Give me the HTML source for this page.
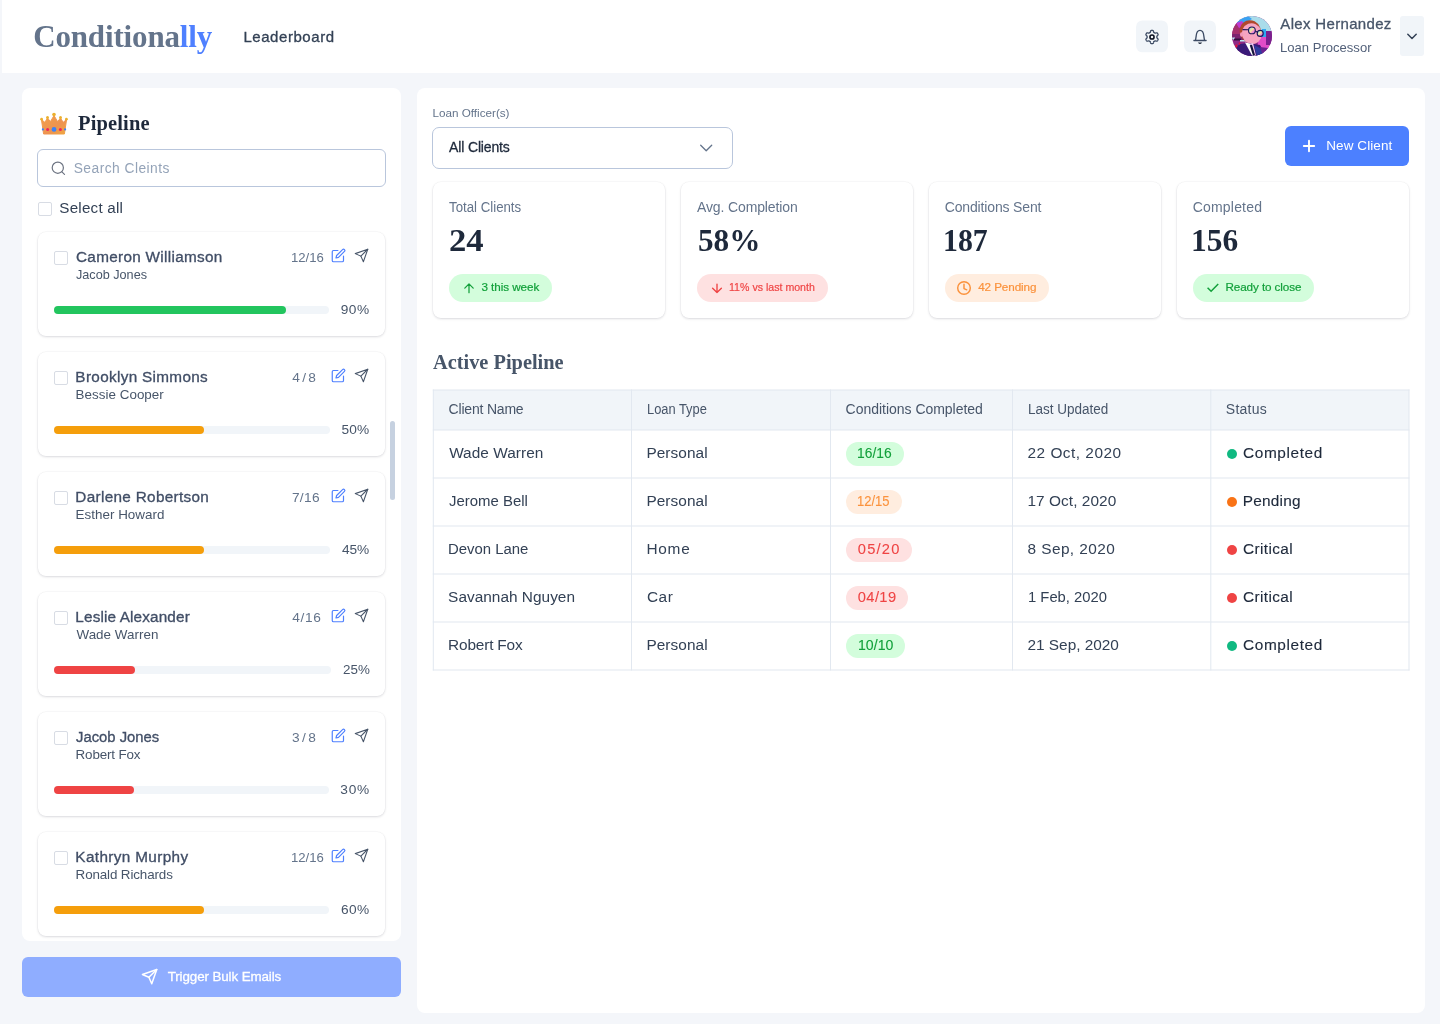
<!DOCTYPE html>
<html lang="en"><head><meta charset="utf-8"><title>Conditionally</title>
<style>
*{box-sizing:border-box;margin:0;padding:0}
html,body{width:1440px;height:1024px;overflow:hidden}
body{background:#F4F6FA;font-family:"Liberation Sans",sans-serif;position:relative}
.t{position:absolute;white-space:nowrap;line-height:20px;font-family:"Liberation Sans",sans-serif}
.sf{font-family:"Liberation Serif",serif;font-weight:bold}
.ic{position:absolute;overflow:visible}
i{position:absolute;display:block}
.hdr{position:absolute;left:2px;top:0;width:1438px;height:73px;background:#fff}
.ib{position:absolute;top:20.900px;width:32px;height:32px;border-radius:7px;background:#F1F5F9}
.cv{position:absolute;left:1400px;top:16.300px;width:24px;height:40px;border-radius:3px;background:#F1F5F9}
.lp{position:absolute;left:22px;top:88px;width:379px;height:853px;border-radius:8px;background:#fff}
.rp{position:absolute;left:417px;top:88px;width:1008px;height:925px;border-radius:8px;background:#fff}
.srch{position:absolute;left:37px;top:149px;width:349px;height:38px;border:1px solid #B9C6DC;border-radius:6px;background:#fff}
.cb{width:13.400px;height:13.400px;border:1px solid #D8DCE4;border-radius:2px;background:#fff}
.card{position:absolute;left:38px;width:347px;height:104px;border-radius:8px;background:#fff;box-shadow:0 0 0 .5px rgba(15,23,42,.04),0 1px 3px rgba(15,23,42,.10),0 1px 2px rgba(15,23,42,.04)}
.trk{left:54px;height:8px;border-radius:4px;background:#F1F5F9}
.fil{left:54px;height:8px;border-radius:4px}
.thumb{left:390px;top:421px;width:5px;height:79px;border-radius:3px;background:#C6D1E0}
.bulk{position:absolute;left:22px;top:957px;width:379px;height:40px;border-radius:6px;background:#8FADFF}
.sel{position:absolute;left:432px;top:127px;width:301px;height:42px;border:1px solid #B9C6DC;border-radius:7px;background:#fff}
.newc{position:absolute;left:1285px;top:126px;width:124px;height:40px;border-radius:6px;background:#4C80FF}
.scard{position:absolute;top:182px;width:232px;height:136px;border-radius:8px;background:#fff;box-shadow:0 0 0 .5px rgba(15,23,42,.04),0 1px 3px rgba(15,23,42,.10),0 1px 2px rgba(15,23,42,.04)}
.pill{border-radius:14px}
.tbl{position:absolute;left:432.500px;top:389.500px;width:977px;height:280.500px;border:1px solid #E2E8F0;background:#fff}
.thead{position:absolute;left:433.500px;top:390.500px;width:975px;height:39px;background:#F1F5F9}
.hl{left:433px;width:976px;height:1px;background:#E2E8F0}
.vl{top:390px;width:1px;height:279.500px;background:#E2E8F0}
.dot{left:1226.700px;width:10.300px;height:10.300px;border-radius:50%}
#pg{position:absolute;left:0;top:0;width:1440px;height:1024px;will-change:transform}
</style></head><body><div id="pg">
<header>
<div class="hdr"></div>
<span class="t sf" style="left:33.15px;top:26.75px;font-size:31px;color:#64748B;letter-spacing:-0.144px;"><span style="color:#64748B;-webkit-text-stroke-color:#64748B">Conditiona</span><span style="color:#4F80FF;-webkit-text-stroke-color:#4F80FF">lly</span></span>
<span class="t" style="left:243.39px;top:26.75px;font-size:15px;color:#334155;letter-spacing:0.558px;-webkit-text-stroke:0.3px #334155;">Leaderboard</span>
<span class="t" style="left:1280.30px;top:13.75px;font-size:15px;color:#475569;letter-spacing:0.330px;-webkit-text-stroke:0.3px #475569;">Alex Hernandez</span>
<span class="t" style="left:1279.66px;top:37.75px;font-size:13.6px;color:#526079;transform:scaleX(0.9612);transform-origin:0 0;">Loan Processor</span>
<svg class="ic" style="left:1136px;top:20px" width="82" height="34" viewBox="0 0 82 34"><rect x="0" y=".4" width="32" height="31.900" rx="6.500" fill="#F1F5F9"/><rect x="48" y=".4" width="32" height="31.900" rx="6.500" fill="#F1F5F9"/></svg>
<svg class="ic" style="left:1144px;top:28.800px" width="16" height="16" viewBox="0 0 16 16" fill="none" stroke-linejoin="round"><path d="M12.90 8.00 L12.90 7.79 L12.88 7.57 L12.86 7.36 L12.95 7.13 L13.25 6.84 L13.55 6.51 L13.84 6.16 L14.08 5.79 L14.10 5.47 L13.98 5.21 L13.85 4.95 L13.72 4.70 L13.57 4.45 L13.41 4.21 L13.24 3.98 L12.96 3.84 L12.52 3.86 L12.07 3.93 L11.63 4.04 L11.23 4.15 L10.98 4.11 L10.81 3.99 L10.63 3.87 L10.45 3.76 L10.26 3.65 L10.07 3.56 L9.88 3.47 L9.72 3.28 L9.62 2.87 L9.49 2.45 L9.33 2.02 L9.12 1.63 L8.86 1.46 L8.58 1.43 L8.29 1.41 L8.00 1.40 L7.71 1.41 L7.42 1.43 L7.14 1.46 L6.88 1.63 L6.67 2.02 L6.51 2.45 L6.38 2.87 L6.28 3.28 L6.12 3.47 L5.93 3.56 L5.74 3.65 L5.55 3.76 L5.37 3.87 L5.19 3.99 L5.02 4.11 L4.77 4.15 L4.37 4.04 L3.93 3.93 L3.48 3.86 L3.04 3.84 L2.76 3.98 L2.59 4.21 L2.43 4.45 L2.28 4.70 L2.15 4.95 L2.02 5.21 L1.90 5.47 L1.92 5.79 L2.16 6.16 L2.45 6.51 L2.75 6.84 L3.05 7.13 L3.14 7.36 L3.12 7.57 L3.10 7.79 L3.10 8.00 L3.10 8.21 L3.12 8.43 L3.14 8.64 L3.05 8.87 L2.75 9.16 L2.45 9.49 L2.16 9.84 L1.92 10.21 L1.90 10.53 L2.02 10.79 L2.15 11.05 L2.28 11.30 L2.43 11.55 L2.59 11.79 L2.76 12.02 L3.04 12.16 L3.48 12.14 L3.93 12.07 L4.37 11.96 L4.77 11.85 L5.02 11.89 L5.19 12.01 L5.37 12.13 L5.55 12.24 L5.74 12.35 L5.93 12.44 L6.12 12.53 L6.28 12.72 L6.38 13.13 L6.51 13.55 L6.67 13.98 L6.88 14.37 L7.14 14.54 L7.42 14.57 L7.71 14.59 L8.00 14.60 L8.29 14.59 L8.58 14.57 L8.86 14.54 L9.12 14.37 L9.33 13.98 L9.49 13.55 L9.62 13.13 L9.72 12.72 L9.88 12.53 L10.07 12.44 L10.26 12.35 L10.45 12.24 L10.63 12.13 L10.81 12.01 L10.98 11.89 L11.23 11.85 L11.63 11.96 L12.07 12.07 L12.52 12.14 L12.96 12.16 L13.24 12.02 L13.41 11.79 L13.57 11.55 L13.72 11.30 L13.85 11.05 L13.98 10.79 L14.10 10.53 L14.08 10.21 L13.84 9.84 L13.55 9.49 L13.25 9.16 L12.95 8.87 L12.86 8.64 L12.88 8.43 L12.90 8.21Z" stroke="#3B4A63" stroke-width="1.300"/><circle cx="8" cy="8" r="2.050" stroke="#0B1120" stroke-width="1.600"/></svg>
<svg class="ic" style="left:1192px;top:29px" width="16" height="16" viewBox="0 0 16 16" fill="none" stroke="#3B4A63" stroke-width="1.300" stroke-linecap="round" stroke-linejoin="round"><path d="M3.500 11.400L4.200 6.800C4.500 3.200 5.800 1.300 8 1.300s3.500 1.900 3.800 5.500l.7 4.600"/><path d="M1.900 11.500h12.200"/><path d="M5.900 13.500h4.200Q8 16.600 5.900 13.500z" fill="#1E293B" stroke="none"/></svg>
<svg class="ic" style="left:1232px;top:16.3px" width="40" height="40" viewBox="0 0 40 40">
<defs><clipPath id="av"><circle cx="20" cy="20" r="20"/></clipPath>
<linearGradient id="lens" x1="0" y1="0" x2="1" y2="1"><stop offset="0" stop-color="#5BC8F5"/><stop offset=".45" stop-color="#F6E7A0"/><stop offset=".7" stop-color="#F08AD0"/><stop offset="1" stop-color="#8A5BF0"/></linearGradient></defs>
<g clip-path="url(#av)">
<rect width="40" height="40" fill="#8E2A86"/>
<path d="M0 6h14v18H0z" fill="#A5306C"/>
<path d="M0 18h12v6H0z" fill="#7C2470"/>
<path d="M6 0h34v15H22L10 8z" fill="#A9DCEA"/>
<path d="M6 2l10-2 4 3-8 5-7-1z" fill="#3AA2F2"/>
<path d="M4 7l6-2 3 4-6 3z" fill="#C23AD0"/>
<path d="M30 13h4v11h-4z" fill="#2FA8F0"/>
<path d="M27 21h10v12H25z" fill="#E24CC8"/>
<path d="M34 15h6v14h-6z" fill="#7B1F8E"/>
<path d="M0 21.5h3v2H0z" fill="#BFE3F5"/><path d="M2 22.6h7v1.8H2z" fill="#33103F"/><path d="M8 24h6v1.4H8z" fill="#BDE6EF"/>
<ellipse cx="18.300" cy="15.400" rx="10.600" ry="11.300" transform="rotate(-20 18.300 15.400)" fill="#B0482C"/>
<ellipse cx="19.800" cy="17.600" rx="9.800" ry="10.500" transform="rotate(-20 19.800 17.600)" fill="#F6A4C0"/>
<ellipse cx="9.600" cy="18.500" rx="1.600" ry="2.300" fill="#F29BBB"/>
<path d="M0 40V34l8-6 8-1 12 2 6 11z" fill="#3A1A78"/>
<path d="M22 29l8 4 2 7H25z" fill="#2F3C9E"/><path d="M28 31l8 1 2 8H31z" fill="#6B2290"/>
<path d="M13 26.500l5 1 5.500 12h-3.500z" fill="#fff"/><path d="M18 27.500l3-.5 3 12.500h-2z" fill="#F0C8F0"/>
<path d="M17.800 29.300l2.200-.5 3 10.200-2 .5z" fill="#14143A"/>
<path d="M3 30l1.500-2 1.200 2-1.200 2z" fill="#E0143C"/><path d="M6.500 27.500l1-1.500 1 1.500-1 1.500z" fill="#E0143C"/>
<circle cx="19.900" cy="14.400" r="3.400" fill="url(#lens)" stroke="#1B1658" stroke-width="1.100"/>
<circle cx="28.200" cy="17.400" r="3" fill="url(#lens)" stroke="#1B1658" stroke-width="1.100"/>
<path d="M10.500 13.600l6 .2M23.300 15.300l2 .8" stroke="#1B1658" stroke-width="1.100" fill="none"/>
</g></svg>
<div class="cv"></div>
<svg class="ic" style="left:1406px;top:32px" width="12" height="9" viewBox="0 0 12 9" fill="none" stroke="#334155" stroke-width="1.500" stroke-linecap="round" stroke-linejoin="round"><path d="M1.800 2.300L6 6.500l4.200-4.200"/></svg>
</header>
<aside>
<div class="lp"></div>
<svg class="ic" style="left:38px;top:110px" width="32" height="26" viewBox="0 0 32 26">
<defs><linearGradient id="cg" x1="0" y1="0" x2="1" y2="1"><stop offset="0" stop-color="#F2A04A"/><stop offset=".6" stop-color="#EE9350"/><stop offset="1" stop-color="#F0A640"/></linearGradient></defs>
<path d="M3.400 9.500L6.800 12.300 9.500 8.200 12.500 11.500 16 5.500 19.500 11.500 22.500 8.200 25.200 12.300 28.600 9.500 26.400 24H5.600z" fill="url(#cg)" stroke="url(#cg)" stroke-width="1" stroke-linejoin="round"/>
<circle cx="16" cy="4.500" r="1.800" fill="#EBB02E"/><circle cx="9.500" cy="7.600" r="1.500" fill="#EBB02E"/><circle cx="22.500" cy="7.600" r="1.500" fill="#EBB02E"/><circle cx="3.600" cy="9.200" r="1.400" fill="#EBB02E"/><circle cx="28.400" cy="9.200" r="1.400" fill="#EBB02E"/>
<circle cx="16" cy="19.400" r="2.400" fill="#3B82F6"/><circle cx="9.600" cy="19.400" r="1.500" fill="#F0245C"/><circle cx="22.400" cy="19.400" r="1.500" fill="#F0245C"/><circle cx="4.900" cy="19.400" r="1.100" fill="#3B82F6"/><circle cx="27.100" cy="19.400" r="1.100" fill="#3B82F6"/>
</svg>
<div class="srch"></div>
<svg class="ic" style="left:50.500px;top:160.800px" width="15" height="15" viewBox="0 0 15 15" fill="none" stroke="#6B7280" stroke-width="1.200" stroke-linecap="round"><circle cx="6.800" cy="6.700" r="5.600"/><path d="M10.900 10.900l2.600 2.500"/></svg>
<i class="cb" style="left:38.400px;top:202.200px"></i>
<div class="bulk"></div>
<span class="t sf" style="left:77.98px;top:113.25px;font-size:20.5px;color:#1E293B;letter-spacing:0.139px;">Pipeline</span>
<span class="t" style="left:73.71px;top:158.75px;font-size:13.8px;color:#94A3B8;letter-spacing:0.464px;">Search Cleints</span>
<span class="t" style="left:59.33px;top:197.75px;font-size:15.2px;color:#334155;letter-spacing:0.216px;">Select all</span>
<span class="t" style="left:167.71px;top:966.75px;font-size:13.4px;color:#FFFFFF;letter-spacing:-0.113px;-webkit-text-stroke:0.3px #FFFFFF;">Trigger Bulk Emails</span>
<div class="card" style="top:232px">
</div>
<i class="cb" style="left:54.4px;top:251.4px"></i>
<svg class="ic" style="left:330.85px;top:247.95px" width="15" height="15" viewBox="0 0 24 24" fill="none" stroke="#4F80FF" stroke-width="1.9" stroke-linecap="round" stroke-linejoin="round"><path d="M11 4H4a2 2 0 0 0-2 2v14a2 2 0 0 0 2 2h14a2 2 0 0 0 2-2v-7"/><path d="M18.5 2.5a2.121 2.121 0 0 1 3 3L12 15l-4 1 1-4 9.5-9.5z"/></svg>
<svg class="ic" style="left:354.0px;top:247.95px" width="15" height="15" viewBox="0 0 24 24" fill="none" stroke="#475569" stroke-width="1.7" stroke-linecap="round" stroke-linejoin="round"><path d="M22 2L11 13"/><path d="M22 2l-7 20-4-9-9-4 20-7z"/></svg>
<i class="trk" style="top:306px;width:274.8px"></i><i class="fil" style="top:306px;width:231.8px;background:#22C55E"></i>
<span class="t" style="left:75.97px;top:246.75px;font-size:15.3px;color:#414E66;letter-spacing:0.311px;-webkit-text-stroke:0.32px #414E66;">Cameron Williamson</span>
<span class="t" style="left:76.31px;top:264.75px;font-size:13.4px;color:#475569;transform:scaleX(0.9444);transform-origin:0 0;">Jacob Jones</span>
<span class="t" style="left:291.09px;top:247.75px;font-size:13.7px;color:#64748B;transform:scaleX(0.9593);transform-origin:0 0;">12/16</span>
<span class="t" style="left:340.72px;top:299.75px;font-size:13.7px;color:#475569;letter-spacing:0.507px;">90%</span>
<div class="card" style="top:352px">
</div>
<i class="cb" style="left:54.4px;top:371.4px"></i>
<svg class="ic" style="left:330.85px;top:367.95px" width="15" height="15" viewBox="0 0 24 24" fill="none" stroke="#4F80FF" stroke-width="1.9" stroke-linecap="round" stroke-linejoin="round"><path d="M11 4H4a2 2 0 0 0-2 2v14a2 2 0 0 0 2 2h14a2 2 0 0 0 2-2v-7"/><path d="M18.5 2.5a2.121 2.121 0 0 1 3 3L12 15l-4 1 1-4 9.5-9.5z"/></svg>
<svg class="ic" style="left:354.0px;top:367.95px" width="15" height="15" viewBox="0 0 24 24" fill="none" stroke="#475569" stroke-width="1.7" stroke-linecap="round" stroke-linejoin="round"><path d="M22 2L11 13"/><path d="M22 2l-7 20-4-9-9-4 20-7z"/></svg>
<i class="trk" style="top:426px;width:275.7px"></i><i class="fil" style="top:426px;width:150.0px;background:#F59E0B"></i>
<span class="t" style="left:75.36px;top:366.75px;font-size:15.3px;color:#414E66;letter-spacing:0.323px;-webkit-text-stroke:0.32px #414E66;">Brooklyn Simmons</span>
<span class="t" style="left:75.60px;top:384.75px;font-size:13.4px;color:#475569;letter-spacing:0.028px;">Bessie Cooper</span>
<span class="t" style="left:292.32px;top:367.75px;font-size:13.7px;color:#64748B;letter-spacing:2.223px;">4/8</span>
<span class="t" style="left:341.52px;top:419.75px;font-size:13.7px;color:#475569;letter-spacing:0.108px;">50%</span>
<div class="card" style="top:472px">
</div>
<i class="cb" style="left:54.4px;top:491.4px"></i>
<svg class="ic" style="left:330.85px;top:487.95px" width="15" height="15" viewBox="0 0 24 24" fill="none" stroke="#4F80FF" stroke-width="1.9" stroke-linecap="round" stroke-linejoin="round"><path d="M11 4H4a2 2 0 0 0-2 2v14a2 2 0 0 0 2 2h14a2 2 0 0 0 2-2v-7"/><path d="M18.5 2.5a2.121 2.121 0 0 1 3 3L12 15l-4 1 1-4 9.5-9.5z"/></svg>
<svg class="ic" style="left:354.0px;top:487.95px" width="15" height="15" viewBox="0 0 24 24" fill="none" stroke="#475569" stroke-width="1.7" stroke-linecap="round" stroke-linejoin="round"><path d="M22 2L11 13"/><path d="M22 2l-7 20-4-9-9-4 20-7z"/></svg>
<i class="trk" style="top:546px;width:275.7px"></i><i class="fil" style="top:546px;width:150.0px;background:#F59E0B"></i>
<span class="t" style="left:75.36px;top:486.75px;font-size:15.3px;color:#414E66;letter-spacing:0.316px;-webkit-text-stroke:0.32px #414E66;">Darlene Robertson</span>
<span class="t" style="left:75.60px;top:504.75px;font-size:13.4px;color:#475569;letter-spacing:0.022px;">Esther Howard</span>
<span class="t" style="left:291.90px;top:487.75px;font-size:13.7px;color:#64748B;letter-spacing:0.365px;">7/16</span>
<span class="t" style="left:341.98px;top:539.75px;font-size:13.7px;color:#475569;letter-spacing:-0.123px;">45%</span>
<div class="card" style="top:592px">
</div>
<i class="cb" style="left:54.4px;top:611.4px"></i>
<svg class="ic" style="left:330.85px;top:607.95px" width="15" height="15" viewBox="0 0 24 24" fill="none" stroke="#4F80FF" stroke-width="1.9" stroke-linecap="round" stroke-linejoin="round"><path d="M11 4H4a2 2 0 0 0-2 2v14a2 2 0 0 0 2 2h14a2 2 0 0 0 2-2v-7"/><path d="M18.5 2.5a2.121 2.121 0 0 1 3 3L12 15l-4 1 1-4 9.5-9.5z"/></svg>
<svg class="ic" style="left:354.0px;top:607.95px" width="15" height="15" viewBox="0 0 24 24" fill="none" stroke="#475569" stroke-width="1.7" stroke-linecap="round" stroke-linejoin="round"><path d="M22 2L11 13"/><path d="M22 2l-7 20-4-9-9-4 20-7z"/></svg>
<i class="trk" style="top:666px;width:277.0px"></i><i class="fil" style="top:666px;width:81.0px;background:#EF4444"></i>
<span class="t" style="left:75.36px;top:606.75px;font-size:15.3px;color:#414E66;letter-spacing:0.141px;-webkit-text-stroke:0.32px #414E66;">Leslie Alexander</span>
<span class="t" style="left:76.48px;top:624.75px;font-size:13.4px;color:#475569;letter-spacing:0.026px;">Wade Warren</span>
<span class="t" style="left:292.32px;top:607.75px;font-size:13.7px;color:#64748B;letter-spacing:0.611px;">4/16</span>
<span class="t" style="left:342.52px;top:659.75px;font-size:13.7px;color:#475569;transform:scaleX(0.9785);transform-origin:0 0;">25%</span>
<div class="card" style="top:712px">
</div>
<i class="cb" style="left:54.4px;top:731.4px"></i>
<svg class="ic" style="left:330.85px;top:727.95px" width="15" height="15" viewBox="0 0 24 24" fill="none" stroke="#4F80FF" stroke-width="1.9" stroke-linecap="round" stroke-linejoin="round"><path d="M11 4H4a2 2 0 0 0-2 2v14a2 2 0 0 0 2 2h14a2 2 0 0 0 2-2v-7"/><path d="M18.5 2.5a2.121 2.121 0 0 1 3 3L12 15l-4 1 1-4 9.5-9.5z"/></svg>
<svg class="ic" style="left:354.0px;top:727.95px" width="15" height="15" viewBox="0 0 24 24" fill="none" stroke="#475569" stroke-width="1.7" stroke-linecap="round" stroke-linejoin="round"><path d="M22 2L11 13"/><path d="M22 2l-7 20-4-9-9-4 20-7z"/></svg>
<i class="trk" style="top:786px;width:275.0px"></i><i class="fil" style="top:786px;width:80.2px;background:#EF4444"></i>
<span class="t" style="left:76.26px;top:726.75px;font-size:15.3px;color:#414E66;transform:scaleX(0.9688);transform-origin:0 0;-webkit-text-stroke:0.32px #414E66;">Jacob Jones</span>
<span class="t" style="left:75.60px;top:744.75px;font-size:13.4px;color:#475569;letter-spacing:-0.158px;">Robert Fox</span>
<span class="t" style="left:291.88px;top:727.75px;font-size:13.7px;color:#64748B;letter-spacing:2.443px;">3/8</span>
<span class="t" style="left:340.35px;top:779.75px;font-size:13.7px;color:#475569;letter-spacing:0.692px;">30%</span>
<div class="card" style="top:832px">
</div>
<i class="cb" style="left:54.4px;top:851.4px"></i>
<svg class="ic" style="left:330.85px;top:847.95px" width="15" height="15" viewBox="0 0 24 24" fill="none" stroke="#4F80FF" stroke-width="1.9" stroke-linecap="round" stroke-linejoin="round"><path d="M11 4H4a2 2 0 0 0-2 2v14a2 2 0 0 0 2 2h14a2 2 0 0 0 2-2v-7"/><path d="M18.5 2.5a2.121 2.121 0 0 1 3 3L12 15l-4 1 1-4 9.5-9.5z"/></svg>
<svg class="ic" style="left:354.0px;top:847.95px" width="15" height="15" viewBox="0 0 24 24" fill="none" stroke="#475569" stroke-width="1.7" stroke-linecap="round" stroke-linejoin="round"><path d="M22 2L11 13"/><path d="M22 2l-7 20-4-9-9-4 20-7z"/></svg>
<i class="trk" style="top:906px;width:275.0px"></i><i class="fil" style="top:906px;width:149.5px;background:#F59E0B"></i>
<span class="t" style="left:75.36px;top:846.75px;font-size:15.3px;color:#414E66;letter-spacing:0.366px;-webkit-text-stroke:0.32px #414E66;">Kathryn Murphy</span>
<span class="t" style="left:75.60px;top:864.75px;font-size:13.4px;color:#475569;letter-spacing:-0.126px;">Ronald Richards</span>
<span class="t" style="left:291.09px;top:847.75px;font-size:13.7px;color:#64748B;transform:scaleX(0.9593);transform-origin:0 0;">12/16</span>
<span class="t" style="left:340.94px;top:899.75px;font-size:13.7px;color:#475569;letter-spacing:0.399px;">60%</span>

<i class="thumb"></i>
<svg class="ic" style="left:141.100px;top:968.400px" width="17.200" height="17.200" viewBox="0 0 24 24" fill="none" stroke="#fff" stroke-width="2.100" stroke-linecap="round" stroke-linejoin="round"><path d="M22 2L11 13"/><path d="M22 2l-7 20-4-9-9-4 20-7z"/></svg>
</aside>
<main>
<div class="rp"></div>
<div class="sel"></div>
<svg class="ic" style="left:699px;top:143px" width="14" height="10" viewBox="0 0 14 10" fill="none" stroke="#64748B" stroke-width="1.300" stroke-linecap="round" stroke-linejoin="round"><path d="M1.700 2.300L7.200 7.800l5.500-5.500"/></svg>
<div class="newc"></div>
<svg class="ic" style="left:1302px;top:139.200px" width="14" height="14" viewBox="0 0 14 14" fill="none" stroke="#fff" stroke-width="1.900" stroke-linecap="round"><path d="M7 1.800v10.400M1.800 7h10.400"/></svg>
<span class="t" style="left:432.43px;top:102.75px;font-size:11.7px;color:#64748B;">Loan Officer(s)</span>
<span class="t" style="left:449.08px;top:137.25px;font-size:14px;color:#1E293B;letter-spacing:-0.148px;-webkit-text-stroke:0.3px #1E293B;">All Clients</span>
<span class="t" style="left:1326.31px;top:135.75px;font-size:13.5px;color:#FFFFFF;letter-spacing:0.075px;">New Client</span>
<span class="t sf" style="left:433.18px;top:352.25px;font-size:21.2px;color:#475569;transform:scaleX(0.9608);transform-origin:0 0;">Active Pipeline</span>
<div class="scard" style="left:433px"></div>
<i class="pill" style="left:449px;top:274px;width:103px;height:28px;background:#D3FDDC"></i>
<svg class="ic" style="left:462.5px;top:281.6px" width="12" height="12" viewBox="0 0 12 12" fill="none" stroke="#12A03A" stroke-width="1.25" stroke-linecap="round" stroke-linejoin="round"><path d="M6 10.700V2.100M1.800 6.100l4.200-4.200 4.200 4.200"/></svg>
<span class="t" style="left:449.28px;top:197.25px;font-size:14px;color:#64748B;transform:scaleX(0.9465);transform-origin:0 0;">Total Clients</span>
<span class="t sf" style="left:448.62px;top:230.75px;font-size:31.2px;color:#1E293B;transform:scaleX(1.1119);transform-origin:0 0;">24</span>
<span class="t" style="left:481.50px;top:276.75px;font-size:11.7px;color:#12A03A;letter-spacing:-0.068px;-webkit-text-stroke:0.2px #12A03A;">3 this week</span>
<div class="scard" style="left:681px"></div>
<i class="pill" style="left:697px;top:274px;width:131px;height:28px;background:#FEE1E1"></i>
<svg class="ic" style="left:710.5px;top:281.6px" width="12" height="12" viewBox="0 0 12 12" fill="none" stroke="#EF4444" stroke-width="1.35" stroke-linecap="round" stroke-linejoin="round"><path d="M6 2.100v8.400M1.600 6.200l4.400 4.400 4.400-4.400"/></svg>
<span class="t" style="left:696.98px;top:197.25px;font-size:14px;color:#64748B;letter-spacing:-0.125px;">Avg. Completion</span>
<span class="t sf" style="left:697.52px;top:230.75px;font-size:31.2px;color:#1E293B;transform:scaleX(1.0010);transform-origin:0 0;">58%</span>
<span class="t" style="left:729.21px;top:276.75px;font-size:11.7px;color:#EF4444;transform:scaleX(0.9073);transform-origin:0 0;-webkit-text-stroke:0.2px #EF4444;">11% vs last month</span>
<div class="scard" style="left:929px"></div>
<i class="pill" style="left:945px;top:274px;width:104px;height:28px;background:#FFEDDF"></i>
<svg class="ic" style="left:956.45px;top:279.95px" width="16" height="16" viewBox="0 0 16 16" fill="none" stroke="#FB923C" stroke-width="1.45" stroke-linecap="round" stroke-linejoin="round"><circle cx="8" cy="8" r="6.3"/><path d="M8 4.300V8.600l2.800 1.200"/></svg>
<span class="t" style="left:944.76px;top:197.25px;font-size:14px;color:#64748B;letter-spacing:-0.153px;">Conditions Sent</span>
<span class="t sf" style="left:943.44px;top:230.75px;font-size:31.2px;color:#1E293B;transform:scaleX(0.9564);transform-origin:0 0;">187</span>
<span class="t" style="left:978.23px;top:276.75px;font-size:11.7px;color:#FB923C;letter-spacing:-0.102px;-webkit-text-stroke:0.2px #FB923C;">42 Pending</span>
<div class="scard" style="left:1177px"></div>
<i class="pill" style="left:1193px;top:274px;width:121px;height:28px;background:#D3FDDC"></i>
<svg class="ic" style="left:1205.6px;top:281.6px" width="14" height="12" viewBox="0 0 14 12" fill="none" stroke="#12A03A" stroke-width="1.5" stroke-linecap="square" stroke-linejoin="miter"><path d="M2.100 6.300l3 3 6.600-6.700"/></svg>
<span class="t" style="left:1192.76px;top:197.25px;font-size:14px;color:#64748B;letter-spacing:0.186px;">Completed</span>
<span class="t sf" style="left:1191.11px;top:230.75px;font-size:31.2px;color:#1E293B;transform:scaleX(1.0069);transform-origin:0 0;">156</span>
<span class="t" style="left:1225.52px;top:276.75px;font-size:11.7px;color:#12A03A;letter-spacing:-0.111px;-webkit-text-stroke:0.2px #12A03A;">Ready to close</span>

<svg class="ic" style="left:430px;top:387px" width="982" height="286" viewBox="430 387 982 286" shape-rendering="geometricPrecision"><rect x="433.3" y="390" width="975.700" height="40" fill="#F1F5F9"/><rect x="432.800" y="389.5" width="976.700" height="1" fill="#E2E8F0"/><rect x="432.800" y="429.5" width="976.700" height="1" fill="#E2E8F0"/><rect x="432.800" y="477.5" width="976.700" height="1" fill="#E2E8F0"/><rect x="432.800" y="525.5" width="976.700" height="1" fill="#E2E8F0"/><rect x="432.800" y="573.5" width="976.700" height="1" fill="#E2E8F0"/><rect x="432.800" y="621.5" width="976.700" height="1" fill="#E2E8F0"/><rect x="432.800" y="669.5" width="976.700" height="1" fill="#E2E8F0"/><rect x="432.8" y="389.500" width="1" height="281" fill="#E2E8F0"/><rect x="631.0" y="389.500" width="1" height="281" fill="#E2E8F0"/><rect x="830.0" y="389.500" width="1" height="281" fill="#E2E8F0"/><rect x="1012.0" y="389.500" width="1" height="281" fill="#E2E8F0"/><rect x="1210.3" y="389.500" width="1" height="281" fill="#E2E8F0"/><rect x="1408.5" y="389.500" width="1" height="281" fill="#E2E8F0"/></svg>

<span class="t" style="left:448.62px;top:399.25px;font-size:14px;color:#475569;letter-spacing:-0.199px;">Client Name</span>
<span class="t" style="left:646.76px;top:399.25px;font-size:14px;color:#475569;transform:scaleX(0.9190);transform-origin:0 0;">Loan Type</span>
<span class="t" style="left:845.62px;top:399.25px;font-size:14px;color:#475569;letter-spacing:-0.025px;">Conditions Completed</span>
<span class="t" style="left:1027.65px;top:399.25px;font-size:14px;color:#475569;transform:scaleX(0.9645);transform-origin:0 0;">Last Updated</span>
<span class="t" style="left:1225.87px;top:399.25px;font-size:14px;color:#475569;letter-spacing:0.234px;">Status</span>
<i class="pill" style="left:846px;top:442.0px;width:58px;height:24px;background:#D3FDDC"></i><i class="dot" style="top:448.7px;background:#10B981"></i>
<span class="t" style="left:449.13px;top:442.75px;font-size:15.4px;color:#334155;letter-spacing:0.040px;">Wade Warren</span>
<span class="t" style="left:646.41px;top:442.75px;font-size:15.4px;color:#334155;letter-spacing:0.062px;">Personal</span>
<span class="t" style="left:856.78px;top:443.25px;font-size:14.7px;color:#12A03A;transform:scaleX(0.9421);transform-origin:0 0;-webkit-text-stroke:0.1px #12A03A;">16/16</span>
<span class="t" style="left:1027.56px;top:442.75px;font-size:15.4px;color:#334155;letter-spacing:0.489px;">22 Oct, 2020</span>
<span class="t" style="left:1243.00px;top:442.75px;font-size:15.4px;color:#1E293B;letter-spacing:0.608px;-webkit-text-stroke:0.12px #1E293B;">Completed</span>
<i class="pill" style="left:846px;top:490.0px;width:56px;height:24px;background:#FFEDDF"></i><i class="dot" style="top:496.7px;background:#F97316"></i>
<span class="t" style="left:448.87px;top:490.75px;font-size:15.4px;color:#334155;transform:scaleX(0.9705);transform-origin:0 0;">Jerome Bell</span>
<span class="t" style="left:646.41px;top:490.75px;font-size:15.4px;color:#334155;letter-spacing:0.062px;">Personal</span>
<span class="t" style="left:856.84px;top:491.25px;font-size:14.7px;color:#FB923C;transform:scaleX(0.8857);transform-origin:0 0;-webkit-text-stroke:0.1px #FB923C;">12/15</span>
<span class="t" style="left:1027.47px;top:490.75px;font-size:15.4px;color:#334155;letter-spacing:0.063px;">17 Oct, 2020</span>
<span class="t" style="left:1242.67px;top:490.75px;font-size:15.4px;color:#1E293B;letter-spacing:0.225px;-webkit-text-stroke:0.12px #1E293B;">Pending</span>
<i class="pill" style="left:846px;top:538.0px;width:66px;height:24px;background:#FEE1E1"></i><i class="dot" style="top:544.7px;background:#EF4444"></i>
<span class="t" style="left:448.27px;top:538.75px;font-size:15.4px;color:#334155;transform:scaleX(0.9683);transform-origin:0 0;">Devon Lane</span>
<span class="t" style="left:646.41px;top:538.75px;font-size:15.4px;color:#334155;letter-spacing:0.751px;">Home</span>
<span class="t" style="left:857.74px;top:539.25px;font-size:14.7px;color:#EF4444;letter-spacing:1.232px;-webkit-text-stroke:0.1px #EF4444;">05/20</span>
<span class="t" style="left:1027.55px;top:538.75px;font-size:15.4px;color:#334155;letter-spacing:0.420px;">8 Sep, 2020</span>
<span class="t" style="left:1243.00px;top:538.75px;font-size:15.4px;color:#1E293B;letter-spacing:0.381px;-webkit-text-stroke:0.12px #1E293B;">Critical</span>
<i class="pill" style="left:846px;top:586.0px;width:62px;height:24px;background:#FEE1E1"></i><i class="dot" style="top:592.7px;background:#EF4444"></i>
<span class="t" style="left:448.12px;top:586.75px;font-size:15.4px;color:#334155;letter-spacing:0.016px;">Savannah Nguyen</span>
<span class="t" style="left:646.97px;top:586.75px;font-size:15.4px;color:#334155;letter-spacing:0.501px;">Car</span>
<span class="t" style="left:857.74px;top:587.25px;font-size:14.7px;color:#EF4444;letter-spacing:0.407px;-webkit-text-stroke:0.1px #EF4444;">04/19</span>
<span class="t" style="left:1027.92px;top:586.75px;font-size:15.4px;color:#334155;transform:scaleX(0.9614);transform-origin:0 0;">1 Feb, 2020</span>
<span class="t" style="left:1243.00px;top:586.75px;font-size:15.4px;color:#1E293B;letter-spacing:0.381px;-webkit-text-stroke:0.12px #1E293B;">Critical</span>
<i class="pill" style="left:846px;top:634.0px;width:59px;height:24px;background:#D3FDDC"></i><i class="dot" style="top:640.7px;background:#10B981"></i>
<span class="t" style="left:448.11px;top:634.75px;font-size:15.4px;color:#334155;letter-spacing:-0.178px;">Robert Fox</span>
<span class="t" style="left:646.41px;top:634.75px;font-size:15.4px;color:#334155;letter-spacing:0.062px;">Personal</span>
<span class="t" style="left:857.66px;top:635.25px;font-size:14.7px;color:#12A03A;transform:scaleX(0.9613);transform-origin:0 0;-webkit-text-stroke:0.1px #12A03A;">10/10</span>
<span class="t" style="left:1027.56px;top:634.75px;font-size:15.4px;color:#334155;letter-spacing:-0.028px;">21 Sep, 2020</span>
<span class="t" style="left:1243.00px;top:634.75px;font-size:15.4px;color:#1E293B;letter-spacing:0.608px;-webkit-text-stroke:0.12px #1E293B;">Completed</span>

</main>
</div></body></html>
